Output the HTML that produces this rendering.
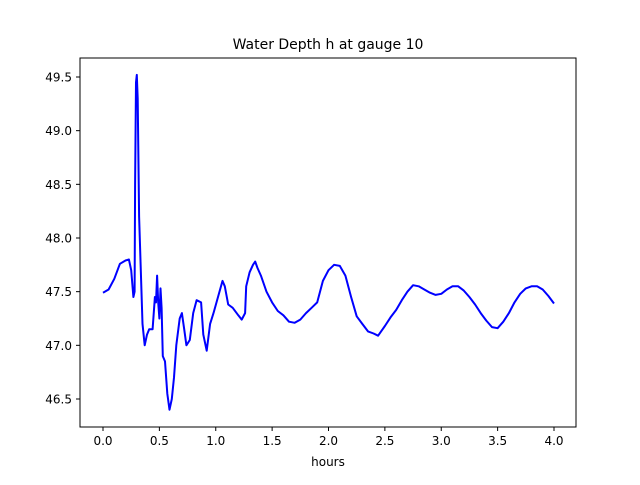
<!DOCTYPE html>
<html><head><meta charset="utf-8"><style>
body{margin:0;background:#fff;}
svg{font-family:"DejaVu Sans","Liberation Sans",sans-serif;}
</style></head><body>
<svg id="c" width="640" height="480" viewBox="0 0 640 480">
<rect width="640" height="480" fill="#fff"/>
<text x="328" y="49" text-anchor="middle" font-size="14">Water Depth h at gauge 10</text>
<text x="328" y="466" text-anchor="middle" font-size="12">hours</text>
<g id="ticks"></g>
<polyline id="line" fill="none" stroke="#0000ff" stroke-width="2" stroke-linejoin="round"/>
<rect x="80" y="58" width="496" height="369" fill="none" stroke="#000" stroke-width="1"/>
</svg>
<script>
const times=[0,0.05,0.1,0.15,0.2,0.23,0.25,0.27,0.28,0.285,0.293,0.3,0.308,0.32,0.35,0.37,0.39,0.41,0.44,0.46,0.47,0.48,0.49,0.5,0.51,0.52,0.53,0.55,0.57,0.59,0.61,0.63,0.65,0.68,0.7,0.72,0.74,0.77,0.8,0.83,0.87,0.89,0.92,0.95,0.98,1.02,1.06,1.08,1.11,1.15,1.2,1.23,1.26,1.27,1.3,1.33,1.35,1.37,1.4,1.45,1.5,1.55,1.6,1.65,1.7,1.75,1.8,1.85,1.9,1.95,2,2.05,2.1,2.15,2.2,2.25,2.3,2.35,2.4,2.44,2.5,2.55,2.6,2.65,2.7,2.75,2.8,2.85,2.9,2.95,3,3.05,3.1,3.15,3.2,3.25,3.3,3.35,3.4,3.45,3.5,3.55,3.6,3.65,3.7,3.75,3.8,3.85,3.9,3.95,4];
const depths=[47.49,47.52,47.62,47.76,47.79,47.8,47.7,47.45,47.5,48.5,49.45,49.52,49.3,48.2,47.2,47.0,47.1,47.15,47.15,47.45,47.4,47.65,47.4,47.25,47.53,47.35,46.9,46.85,46.55,46.4,46.5,46.7,47.0,47.25,47.3,47.15,47.0,47.05,47.3,47.42,47.4,47.1,46.95,47.2,47.3,47.45,47.6,47.55,47.38,47.35,47.28,47.24,47.3,47.55,47.68,47.75,47.78,47.72,47.65,47.5,47.4,47.32,47.28,47.22,47.21,47.24,47.3,47.35,47.4,47.6,47.7,47.75,47.74,47.65,47.45,47.27,47.2,47.13,47.11,47.09,47.18,47.26,47.33,47.42,47.5,47.56,47.55,47.52,47.49,47.47,47.48,47.52,47.55,47.55,47.51,47.45,47.38,47.3,47.23,47.17,47.16,47.22,47.3,47.4,47.48,47.53,47.55,47.55,47.52,47.46,47.39];
const xTicks=[0,0.5,1,1.5,2,2.5,3,3.5,4];
const yTicks=[46.5,47,47.5,48,48.5,49,49.5];
const X=t=>103+t*112.75;
const Y=h=>77+(49.5-h)*107.33;
const NS='http://www.w3.org/2000/svg';
const g=document.getElementById('ticks');
xTicks.forEach(t=>{
  const l=document.createElementNS(NS,'line');
  l.setAttribute('x1',X(t));l.setAttribute('x2',X(t));l.setAttribute('y1',427);l.setAttribute('y2',431);l.setAttribute('stroke','#000');
  
  
  g.appendChild(l);
  const s=document.createElementNS(NS,'text');
  s.setAttribute('x',X(t));s.setAttribute('y',445);s.setAttribute('text-anchor','middle');s.setAttribute('font-size','12');
  s.textContent=t.toFixed(1);
  
  
  g.appendChild(s);
});
yTicks.forEach(h=>{
  const l=document.createElementNS(NS,'line');
  l.setAttribute('x1',76);l.setAttribute('x2',80);l.setAttribute('y1',Y(h));l.setAttribute('y2',Y(h));l.setAttribute('stroke','#000');
  
  
  g.appendChild(l);
  const s=document.createElementNS(NS,'text');
  s.setAttribute('x',72);s.setAttribute('y',Y(h)+4.5);s.setAttribute('text-anchor','end');s.setAttribute('font-size','12');
  s.textContent=h.toFixed(1);
  
  
  g.appendChild(s);
});
document.getElementById('line').setAttribute('points',times.map((t,i)=>X(t).toFixed(1)+','+Y(depths[i]).toFixed(1)).join(' '));
</script>
</body></html>
